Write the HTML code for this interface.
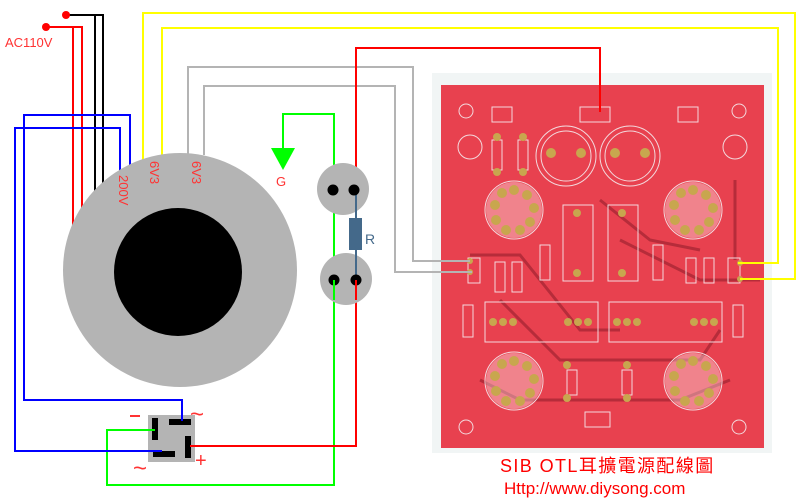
<!DOCTYPE html>
<html><head><meta charset="utf-8"><style>
html,body{margin:0;padding:0;background:#fff;width:800px;height:500px;overflow:hidden}
svg{display:block}
</style></head><body>
<svg width="800" height="500" viewBox="0 0 800 500" xmlns="http://www.w3.org/2000/svg" font-family="Liberation Sans, sans-serif">
<!-- PCB -->
<rect x="432" y="73" width="340" height="380" fill="#f1f5f5"/>
<rect x="441" y="85" width="323" height="363" fill="#e8414f"/>
<g fill="none" stroke="#b62c3a" stroke-width="3">
<path d="M470 255 L520 255 L580 330 L620 330"/><path d="M500 300 L560 360 L700 360 L720 330"/>
<path d="M620 240 L700 280 L760 280"/><path d="M480 380 L520 400 L680 400 L730 380"/>
<path d="M735 180 L735 260"/><path d="M600 200 L650 240 L700 250"/>
</g>
<g fill="none" stroke="#f3d8dc" stroke-width="1">
<circle cx="566" cy="156" r="30"/><circle cx="566" cy="156" r="25"/>
<circle cx="630" cy="156" r="30"/><circle cx="630" cy="156" r="25"/>
<circle cx="514" cy="210" r="29"/><circle cx="693" cy="210" r="29"/>
<circle cx="514" cy="381" r="29"/><circle cx="693" cy="381" r="29"/>
<rect x="563" y="205" width="30" height="76"/><rect x="608" y="205" width="30" height="76"/>
<rect x="485" y="302" width="113" height="40"/><rect x="609" y="302" width="113" height="40"/>
<rect x="492" y="107" width="20" height="15"/><rect x="580" y="107" width="30" height="15"/><rect x="678" y="107" width="20" height="15"/>
<rect x="468" y="258" width="12" height="25"/><rect x="728" y="258" width="12" height="25"/>
<circle cx="466" cy="111" r="7"/><circle cx="739" cy="111" r="7"/><circle cx="466" cy="427" r="7"/><circle cx="739" cy="427" r="7"/>
<circle cx="470" cy="147" r="12"/><circle cx="735" cy="147" r="12"/>
<rect x="492" y="140" width="10" height="30"/><rect x="518" y="140" width="10" height="30"/>
<rect x="540" y="245" width="10" height="35"/><rect x="495" y="262" width="10" height="30"/><rect x="512" y="262" width="10" height="30"/>
<rect x="653" y="245" width="10" height="35"/><rect x="686" y="258" width="10" height="25"/><rect x="704" y="258" width="10" height="25"/>
<rect x="463" y="305" width="10" height="32"/><rect x="733" y="305" width="10" height="32"/>
<rect x="567" y="370" width="10" height="25"/><rect x="622" y="370" width="10" height="25"/>
<rect x="585" y="412" width="25" height="15"/>
</g>
<g fill="#fff" opacity="0.35"><circle cx="514" cy="210" r="28"/><circle cx="693" cy="210" r="28"/><circle cx="514" cy="381" r="28"/><circle cx="693" cy="381" r="28"/></g>
<g fill="#c8a64e">
<circle cx="514" cy="190" r="5"/><circle cx="527" cy="195" r="5"/><circle cx="534" cy="208" r="5"/><circle cx="530" cy="222" r="5"/><circle cx="520" cy="230" r="5"/><circle cx="506" cy="230" r="5"/><circle cx="496" cy="220" r="5"/><circle cx="495" cy="205" r="5"/><circle cx="502" cy="193" r="5"/>
<circle cx="693" cy="190" r="5"/><circle cx="706" cy="195" r="5"/><circle cx="713" cy="208" r="5"/><circle cx="709" cy="222" r="5"/><circle cx="699" cy="230" r="5"/><circle cx="685" cy="230" r="5"/><circle cx="675" cy="220" r="5"/><circle cx="674" cy="205" r="5"/><circle cx="681" cy="193" r="5"/>
<circle cx="514" cy="361" r="5"/><circle cx="527" cy="366" r="5"/><circle cx="534" cy="379" r="5"/><circle cx="530" cy="393" r="5"/><circle cx="520" cy="401" r="5"/><circle cx="506" cy="401" r="5"/><circle cx="496" cy="391" r="5"/><circle cx="495" cy="376" r="5"/><circle cx="502" cy="364" r="5"/>
<circle cx="693" cy="361" r="5"/><circle cx="706" cy="366" r="5"/><circle cx="713" cy="379" r="5"/><circle cx="709" cy="393" r="5"/><circle cx="699" cy="401" r="5"/><circle cx="685" cy="401" r="5"/><circle cx="675" cy="391" r="5"/><circle cx="674" cy="376" r="5"/><circle cx="681" cy="364" r="5"/>
<circle cx="551" cy="153" r="5"/><circle cx="581" cy="153" r="5"/><circle cx="615" cy="153" r="5"/><circle cx="645" cy="153" r="5"/>
<circle cx="577" cy="213" r="4"/><circle cx="577" cy="273" r="4"/><circle cx="622" cy="213" r="4"/><circle cx="622" cy="273" r="4"/>
<circle cx="493" cy="322" r="4"/><circle cx="503" cy="322" r="4"/><circle cx="513" cy="322" r="4"/><circle cx="568" cy="322" r="4"/><circle cx="578" cy="322" r="4"/><circle cx="588" cy="322" r="4"/>
<circle cx="617" cy="322" r="4"/><circle cx="627" cy="322" r="4"/><circle cx="637" cy="322" r="4"/><circle cx="694" cy="322" r="4"/><circle cx="704" cy="322" r="4"/><circle cx="714" cy="322" r="4"/>
<circle cx="497" cy="137" r="4"/><circle cx="497" cy="172" r="4"/><circle cx="523" cy="137" r="4"/><circle cx="523" cy="172" r="4"/>
<circle cx="567" cy="365" r="4"/><circle cx="567" cy="398" r="4"/><circle cx="627" cy="365" r="4"/><circle cx="627" cy="398" r="4"/>
<circle cx="740" cy="263" r="3"/><circle cx="740" cy="279" r="3"/><circle cx="470" cy="261" r="3"/><circle cx="470" cy="272" r="3"/>
</g>
<!-- wires -->
<g fill="none" stroke-width="2">
<polyline stroke="#ffff00" points="143,160 143,13 795,13 795,279 740,279"/>
<polyline stroke="#ffff00" points="162,155 162,28 778,28 778,263 738,263"/>
<polyline stroke="#b4b4b4" points="188,155 188,67 413,67 413,261 470,261"/>
<polyline stroke="#b4b4b4" points="204,155 204,86 395,86 395,272 472,272"/>
<polyline stroke="#ff0000" points="356,190 356,48 600,48 600,112"/>
<polyline stroke="#000" points="66,15 103,15 103,190"/>
<line stroke="#000" x1="95" y1="15" x2="95" y2="195"/>
<polyline stroke="#ff0000" points="46,27 82,27 82,210"/>
<line stroke="#ff0000" x1="73" y1="27" x2="73" y2="228"/>
<polyline stroke="#0000ff" points="130,170 130,115 24,115 24,400 182,400 182,421"/>
<polyline stroke="#0000ff" points="120,172 120,128 15,128 15,451 162,451"/>
<polyline stroke="#00ff00" points="155,430 107,430 107,485 334,485 334,114 283,114 283,150"/>
<polyline stroke="#ff0000" points="190,446 356,446 356,280"/>
</g>
<circle cx="66" cy="15" r="4" fill="#ff0000"/>
<circle cx="46" cy="27" r="4" fill="#ff0000"/>
<text x="5" y="47" font-size="13" fill="#ff3333">AC110V</text>
<!-- transformer -->
<circle cx="180" cy="270" r="117" fill="#b4b4b4"/>
<circle cx="178" cy="272" r="64" fill="#000"/>
<g font-size="13" fill="#ff3333">
<text transform="translate(119,175) rotate(90)">200V</text>
<text transform="translate(150,161) rotate(90)">6V3</text>
<text transform="translate(192,161) rotate(90)">6V3</text>
</g>
<!-- ground arrow -->
<polygon points="271,148 295,148 283,170" fill="#00ff00"/>
<text x="276" y="186" font-size="13" fill="#ff3333">G</text>
<!-- lamps -->
<circle cx="343" cy="189" r="26" fill="#b4b4b4"/>
<circle cx="346" cy="279" r="26" fill="#b4b4b4"/>
<line x1="356" y1="190" x2="356" y2="280" stroke="#44698a" stroke-width="2"/>
<rect x="349" y="218" width="13" height="32" fill="#44698a"/>
<text x="365" y="244" font-size="14" fill="#44698a">R</text>
<g fill="#000"><circle cx="333" cy="190" r="5.5"/><circle cx="354" cy="190" r="5.5"/><circle cx="334" cy="280" r="5.5"/><circle cx="356" cy="280" r="5.5"/></g>
<line x1="334" y1="280" x2="334" y2="300" stroke="#00ff00" stroke-width="2"/>
<line x1="356" y1="280" x2="356" y2="300" stroke="#ff0000" stroke-width="2"/>
<!-- bridge -->
<rect x="148" y="415" width="47" height="47" fill="#b4b4b4"/>
<g fill="#000">
<rect x="152" y="418" width="6" height="22"/>
<rect x="169" y="419" width="22" height="6"/>
<rect x="185" y="436" width="6" height="22"/>
<rect x="153" y="451" width="22" height="6"/>
</g>
<polyline points="155,430 107,430" stroke="#00ff00" stroke-width="2"/>
<line x1="182" y1="400" x2="182" y2="421" stroke="#0000ff" stroke-width="2"/>
<line x1="162" y1="451" x2="15" y2="451" stroke="#0000ff" stroke-width="2"/>
<line x1="190" y1="446" x2="356" y2="446" stroke="#ff0000" stroke-width="2"/>
<g fill="#ff3333">
<rect x="130" y="415" width="10" height="2"/>
<text x="190" y="422" font-size="24">~</text>
<text x="133" y="476" font-size="24">~</text>
<text x="195" y="467" font-size="20">+</text>
</g>
<text x="500" y="472" font-size="18" letter-spacing="1.4" fill="#ff0000" font-family="Liberation Sans, Noto Sans CJK TC, sans-serif">SIB OTL耳擴電源配線圖</text>
<text x="504" y="494" font-size="17" fill="#ff0000">Http://www.diysong.com</text>
</svg>
</body></html>
